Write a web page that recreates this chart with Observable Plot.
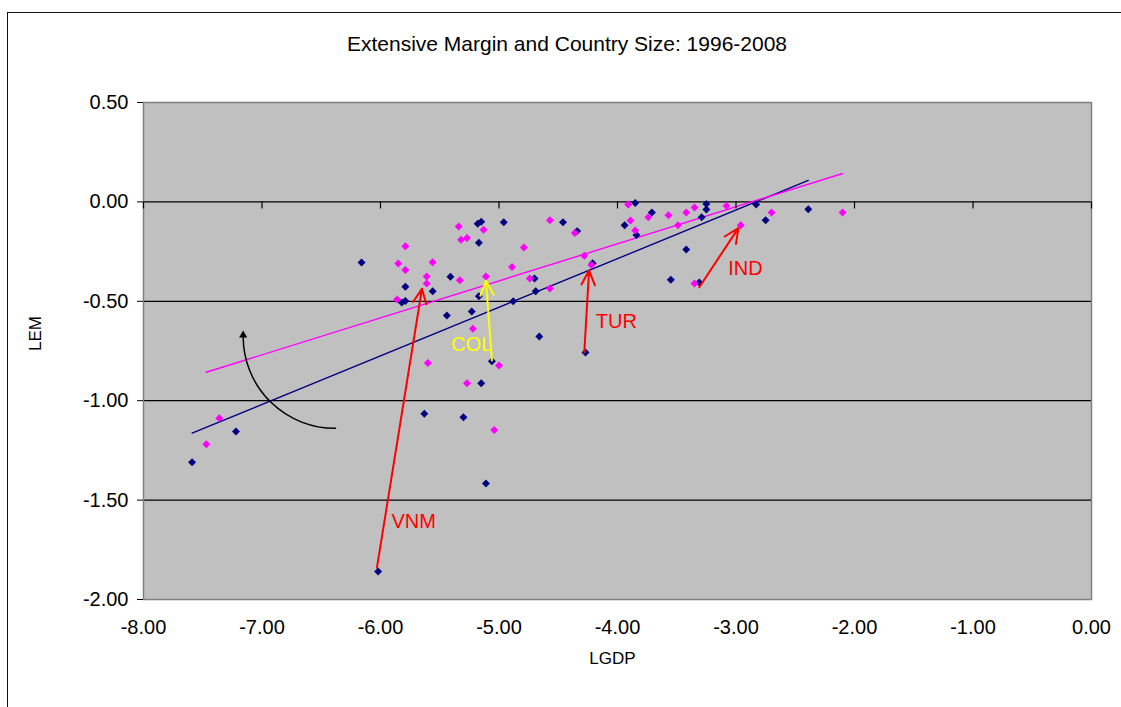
<!DOCTYPE html>
<html><head><meta charset="utf-8">
<script src="https://cdn.jsdelivr.net/npm/d3@7"></script>
<script src="https://cdn.jsdelivr.net/npm/@observablehq/plot@0.6"></script>
<style>
body{margin:0;background:#fff;font-family:"Liberation Sans",Arial,sans-serif;}
#wrap{position:relative;width:1121px;height:707px;overflow:hidden;}
#border{position:absolute;left:7px;top:12px;width:1200px;height:800px;border-left:1.5px solid #111;border-top:1.5px solid #111;}
#title{position:absolute;top:32px;left:0;width:1134px;text-align:center;font-size:21px;color:#000;line-height:24px;}
#chart{position:absolute;left:0;top:60px;}
</style></head><body>
<div id="wrap"><div id="border"></div><div id="title">Extensive Margin and Country Size: 1996-2008</div><div id="chart"></div></div>
<script>
// 1996 series (navy)
const lgdp1996 = [-7.59,-7.22,-6.16,-6.02,-5.82,-5.79,-5.79,-5.63,-5.56,-5.44,-5.41,-5.30,-5.23,-5.18,-5.15,-5.17,-5.17,-5.15,-5.11,-5.06,-4.96,-4.88,-4.70,-4.69,-4.66,-4.46,-4.34,-4.27,-4.21,-3.94,-3.85,-3.84,-3.71,-3.55,-3.42,-3.31,-3.29,-3.25,-3.25,-2.83,-2.75,-2.39];
const lem1996 = [-1.31,-1.155,-0.305,-1.859,-0.506,-0.498,-0.427,-1.066,-0.449,-0.571,-0.377,-1.083,-0.551,-0.110,-0.100,-0.206,-0.474,-0.912,-1.417,-0.801,-0.102,-0.50,-0.385,-0.449,-0.677,-0.102,-0.147,-0.758,-0.308,-0.117,-0.006,-0.166,-0.053,-0.392,-0.239,-0.405,-0.077,-0.010,-0.038,-0.013,-0.092,-0.037];
// 2008 series (magenta)
const lgdp2008 = [-7.47,-7.36,-5.86,-5.85,-5.79,-5.79,-5.61,-5.61,-5.60,-5.56,-5.34,-5.33,-5.32,-5.27,-5.27,-5.22,-5.13,-5.11,-5.04,-5.00,-4.89,-4.79,-4.74,-4.57,-4.57,-4.36,-4.28,-4.22,-3.91,-3.89,-3.85,-3.74,-3.57,-3.49,-3.42,-3.35,-3.35,-3.08,-2.96,-2.70,-2.10];
const lem2008 = [-1.219,-1.088,-0.491,-0.310,-0.223,-0.343,-0.375,-0.410,-0.81,-0.303,-0.124,-0.394,-0.191,-0.181,-0.912,-0.638,-0.140,-0.375,-1.147,-0.823,-0.327,-0.229,-0.385,-0.092,-0.436,-0.157,-0.271,-0.318,-0.013,-0.094,-0.144,-0.077,-0.067,-0.117,-0.053,-0.028,-0.41,-0.020,-0.117,-0.053,-0.053];
// linear trend lines (end points)
const trendX1996 = [-7.59, -2.39];
const trendY1996 = [-1.163, 0.108];
const trendX2008 = [-7.47, -2.10];
const trendY2008 = [-0.857, 0.143];
// country arrows 1996 -> 2008
const arrowCountry = ["VNM","TUR","IND","COL"];
const arrowFromX = [-6.03,-4.28,-3.31,-5.06];
const arrowFromY = [-1.84,-0.756,-0.429,-0.798];
const arrowToX = [-5.65,-4.24,-2.98,-5.11];
const arrowToY = [-0.437,-0.345,-0.132,-0.397];
const labelX = [-5.72,-4.01,-2.92,-5.23];
const labelY = [-1.608,-0.601,-0.335,-0.717];
// curved rotation arrow
const curveFrom = [-6.38, -1.139];
const curveTo = [-7.159, -0.68];
const curveTip = [-7.159, -0.647];
// ticks
const xTicks = [-8,-7,-6,-5,-4,-3,-2,-1,0];
const yTicks = [0.5,0,-0.5,-1,-1.5,-2];
const gridY = [0,-0.5,-1,-1.5];

const pts1996 = lgdp1996.map((x,i)=>({x, y: lem1996[i]}));
const pts2008 = lgdp2008.map((x,i)=>({x, y: lem2008[i]}));
const tr1996 = trendX1996.map((x,i)=>({x, y: trendY1996[i]}));
const tr2008 = trendX2008.map((x,i)=>({x, y: trendY2008[i]}));
const arrows = arrowCountry.map((c,i)=>({c, x1: arrowFromX[i], y1: arrowFromY[i], x2: arrowToX[i], y2: arrowToY[i], lx: labelX[i], ly: labelY[i]}));
const colorOf = d => d.c === "COL" ? "#ffff00" : "#ff0000";
const fmt = d => d.toFixed(2);
const font = "Liberation Sans, Arial, sans-serif";
const tickShape = {draw(context, l) { context.moveTo(0, 0); context.lineTo(0, -l); }};

const plot = Plot.plot({
  width: 1121, height: 647,
  marginLeft: 143, marginRight: 30, marginTop: 42, marginBottom: 108,
  x: {domain: [-8, 0]},
  y: {domain: [-2, 0.5]},
  style: {fontFamily: font, background: "transparent", color: "#000"},
  marks: [
    Plot.frame({fill: "#c0c0c0"}),
    Plot.ruleY(gridY, {stroke: "#000", strokeWidth: 1.2}),
    Plot.line(tr1996, {x: "x", y: "y", stroke: "#000080", strokeWidth: 1.4}),
    Plot.line(tr2008, {x: "x", y: "y", stroke: "#ff00ff", strokeWidth: 1.4}),
    Plot.dot(pts1996, {x: "x", y: "y", symbol: "diamond2", r: 3.6, fill: "#000080", stroke: "none"}),
    Plot.dot(pts2008, {x: "x", y: "y", symbol: "diamond2", r: 3.6, fill: "#ff00ff", stroke: "none"}),
    Plot.arrow(arrows, {x1: "x1", y1: "y1", x2: "x2", y2: "y2", stroke: colorOf, strokeWidth: 2, headLength: 12, headAngle: 50}),
    Plot.text(arrows, {x: "lx", y: "ly", text: "c", fill: colorOf, fontSize: 20}),
    Plot.arrow([0], {x1: () => curveFrom[0], y1: () => curveFrom[1], x2: () => curveTo[0], y2: () => curveTo[1], bend: 45, headLength: 0, stroke: "#000", strokeWidth: 1.5}),
    Plot.dot([0], {x: () => curveTip[0], y: () => curveTip[1], symbol: "triangle", r: 3, fill: "#000", stroke: "none", dy: 4.6}),
    Plot.frame({stroke: "#808080", strokeWidth: 1.5}),
    Plot.vector(xTicks, {x: d => d, y: () => 0, length: 6, rotate: 180, anchor: "start", shape: tickShape, stroke: "#000", strokeWidth: 1.2}),
    Plot.axisY({ticks: yTicks, tickSize: 6, tickPadding: 9, tickFormat: fmt, fontSize: 20, label: null}),
    Plot.axisX({ticks: xTicks, tickSize: 0, tickPadding: 20, tickFormat: fmt, fontSize: 20, label: null}),
    Plot.text(["LGDP"], {frameAnchor: "bottom", dx: -5, dy: 64, fontSize: 17}),
    Plot.text(["LEM"], {frameAnchor: "left", dx: -108, rotate: -90, fontSize: 17})
  ]
});
document.getElementById("chart").appendChild(plot);
</script>
</body></html>
